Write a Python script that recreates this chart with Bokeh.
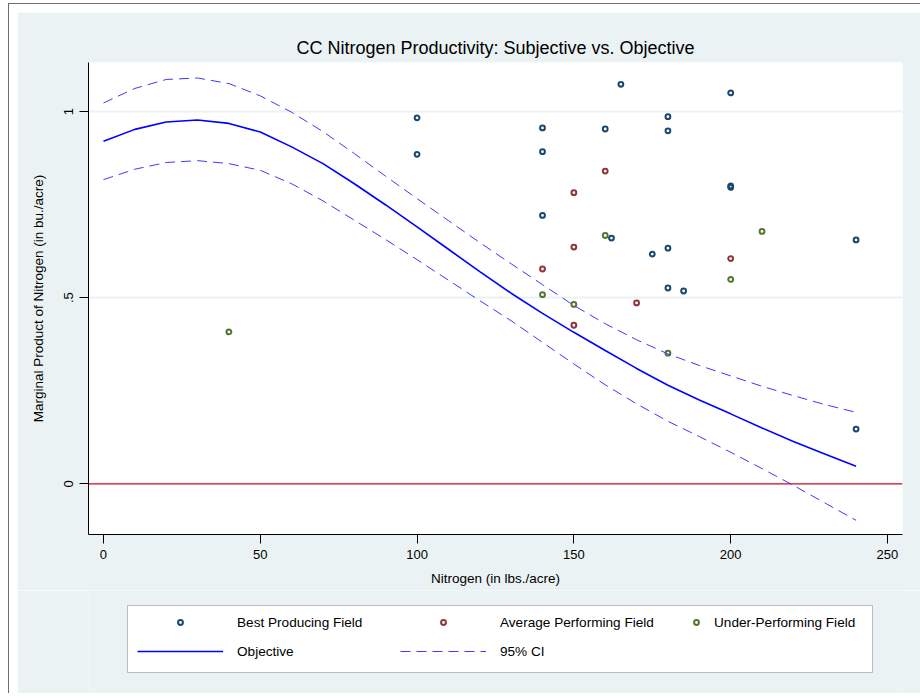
from bokeh.plotting import figure
from bokeh.models import Range1d, FixedTicker, Span, Legend, LegendItem, BoxAnnotation
from bokeh.layouts import column
from bokeh.embed import file_html
from bokeh.resources import INLINE

# ---- data ----
best_x = [100, 100, 140, 140, 140, 160, 162, 165, 175, 180, 180, 180, 180, 185, 200, 200, 200, 240, 240]
best_y = [0.983, 0.885, 0.956, 0.892, 0.721, 0.953, 0.660, 1.073, 0.617, 0.986, 0.948, 0.633, 0.526, 0.518,
          1.050, 0.800, 0.796, 0.655, 0.147]

avg_x = [140, 150, 150, 150, 160, 170, 200]
avg_y = [0.577, 0.782, 0.636, 0.426, 0.840, 0.486, 0.605]

under_x = [40, 140, 150, 160, 180, 200, 210]
under_y = [0.408, 0.508, 0.482, 0.667, 0.351, 0.549, 0.678]

curve_x = [0, 10, 20, 30, 40, 50, 60, 70, 80, 90, 100, 110, 120, 130, 140, 150, 160, 170, 180, 190, 200,
           210, 220, 230, 240]
objective = [0.920, 0.952, 0.972, 0.977, 0.968, 0.945, 0.905, 0.860, 0.806, 0.749, 0.690, 0.630, 0.570,
             0.512, 0.458, 0.407, 0.358, 0.310, 0.265, 0.225, 0.188, 0.150, 0.114, 0.080, 0.047]
ci_upper = [1.023, 1.062, 1.086, 1.090, 1.075, 1.042, 0.998, 0.946, 0.887, 0.826, 0.766, 0.707, 0.648,
            0.591, 0.535, 0.479, 0.430, 0.387, 0.349, 0.318, 0.290, 0.262, 0.237, 0.213, 0.192]
ci_lower = [0.817, 0.845, 0.863, 0.868, 0.860, 0.842, 0.806, 0.760, 0.708, 0.656, 0.602, 0.547, 0.492,
            0.438, 0.380, 0.322, 0.266, 0.215, 0.168, 0.127, 0.085, 0.041, -0.004, -0.051, -0.098]

x_ticks = [0, 50, 100, 150, 200, 250]
y_ticks = [0, 0.5, 1]
y_tick_labels = ["0", ".5", "1"]

series_labels = ["Best Producing Field", "Average Performing Field", "Under-Performing Field",
                 "Objective", "95% CI"]

# ---- styling ----
FONT = "Liberation Sans"
BG = "#EAF2F3"
NAVY = "#1a476f"
MAROON = "#90353b"
GREEN = "#55752f"
BLUE = "#0000ff"
DASHBLUE = "#3a3aff"

# ---------------- main plot ----------------
p = figure(width=903, height=578, output_backend="svg", toolbar_location=None,
           x_range=Range1d(-4.78, 254.8), y_range=Range1d(-0.136, 1.1316),
           min_border_left=71, min_border_right=18, min_border_top=50, min_border_bottom=56)
p.border_fill_color = BG
p.background_fill_color = "white"
p.outline_line_color = None

p.title.text = "CC Nitrogen Productivity: Subjective vs. Objective"
p.title.align = "center"
p.title.text_font = FONT
p.title.text_font_size = "18px"
p.title.text_font_style = "normal"
p.title.text_color = "black"
p.title.standoff = 9

p.xaxis.ticker = FixedTicker(ticks=x_ticks)
p.yaxis.ticker = FixedTicker(ticks=y_ticks)
p.yaxis.major_label_overrides = dict(zip(y_ticks, y_tick_labels))
p.xaxis.axis_label = "Nitrogen (in lbs./acre)"
p.yaxis.axis_label = "Marginal Product of Nitrogen (in bu./acre)"
for ax in (p.xaxis[0], p.yaxis[0]):
    ax.axis_line_color = "black"
    ax.axis_line_width = 1
    ax.major_tick_line_color = "black"
    ax.major_tick_out = 9
    ax.major_tick_in = 0
    ax.minor_tick_line_color = None
    ax.major_label_text_font = FONT
    ax.major_label_text_font_size = "13px"
    ax.major_label_text_color = "black"
    ax.axis_label_text_font = FONT
    ax.axis_label_text_font_size = "13.5px"
    ax.axis_label_text_font_style = "normal"
    ax.axis_label_text_color = "black"
p.yaxis.major_label_orientation = "vertical"
p.xaxis.major_label_standoff = 6
p.yaxis.major_label_standoff = 6
p.xaxis.axis_label_standoff = 9
p.yaxis.axis_label_standoff = 16

p.xgrid.visible = False
p.ygrid.grid_line_color = BG
p.ygrid.grid_line_width = 2

zero = Span(location=0, dimension="width", line_color="#c8102e", line_width=1.2, level="underlay")
p.add_layout(zero)

r_best = p.scatter(best_x, best_y, marker="circle", size=4.8, line_color=NAVY, line_width=2, fill_color=None)
r_avg = p.scatter(avg_x, avg_y, marker="circle", size=4.8, line_color=MAROON, line_width=2, fill_color=None)
r_under = p.scatter(under_x, under_y, marker="circle", size=4.8, line_color=GREEN, line_width=2, fill_color=None)

r_obj = p.line(curve_x, objective, line_color=BLUE, line_width=1.6)
r_up = p.line(curve_x, ci_upper, line_color=DASHBLUE, line_width=1, line_dash="10 6")
r_lo = p.line(curve_x, ci_lower, line_color=DASHBLUE, line_width=1, line_dash="10 6")

# ---------------- legend strip (hidden proxies carry the same styles) ----------------
lg = figure(width=903, height=103, output_backend="svg", toolbar_location=None,
            x_range=Range1d(0, 814), y_range=Range1d(0, 103),
            x_axis_type=None, y_axis_type=None, title=None,
            min_border_left=71, min_border_right=18, min_border_top=0, min_border_bottom=0)
lg.border_fill_color = BG
lg.background_fill_color = BG
lg.background_fill_alpha = 1.0
lg.outline_line_color = None

box = BoxAnnotation(left=39, right=784, bottom=21, top=88, fill_color="white", fill_alpha=1.0,
                    line_color="#333333", line_width=1, level="underlay")
lg.add_layout(box)

k_best = lg.scatter(best_x, best_y, marker="circle", line_color=NAVY, line_width=2, fill_color=None,
                    visible=False)
k_avg = lg.scatter(avg_x, avg_y, marker="circle", line_color=MAROON, line_width=2, fill_color=None,
                   visible=False)
k_under = lg.scatter(under_x, under_y, marker="circle", line_color=GREEN, line_width=2, fill_color=None,
                     visible=False)
k_obj = lg.line(curve_x, objective, line_color=BLUE, line_width=1.6, visible=False)
k_ci = lg.line(curve_x, ci_upper, line_color=DASHBLUE, line_width=1, line_dash="10 6", visible=False)

common = dict(glyph_height=12, label_height=16, padding=0, border_line_color=None,
              background_fill_alpha=0.0, inactive_fill_alpha=0.0, label_text_font=FONT,
              label_text_font_size="13.6px", label_text_color="black", orientation="horizontal")

leg_main = Legend(
    items=[LegendItem(label=series_labels[0], renderers=[k_best]),
           LegendItem(label=series_labels[1], renderers=[k_avg]),
           LegendItem(label=series_labels[3], renderers=[k_obj]),
           LegendItem(label=series_labels[4], renderers=[k_ci])],
    location=(49, 34), ncols=2, glyph_width=86, label_standoff=14, label_width=150, spacing=13,
    **common)
leg_under = Legend(
    items=[LegendItem(label=series_labels[2], renderers=[k_under])],
    location=(593, 63), glyph_width=30, label_standoff=3, spacing=0,
    **common)
lg.add_layout(leg_main, "center")
lg.add_layout(leg_under, "center")

layout = column(p, lg, spacing=0)
p.margin = (8, 0, 0, 8)
lg.margin = (0, 0, 0, 8)
layout.margin = (3, 0, 0, 8)
layout.styles = {"border-left": "1px solid #6e6e6e", "border-top": "1px solid #6e6e6e"}

open("out.html", "w").write(file_html(layout, INLINE))
